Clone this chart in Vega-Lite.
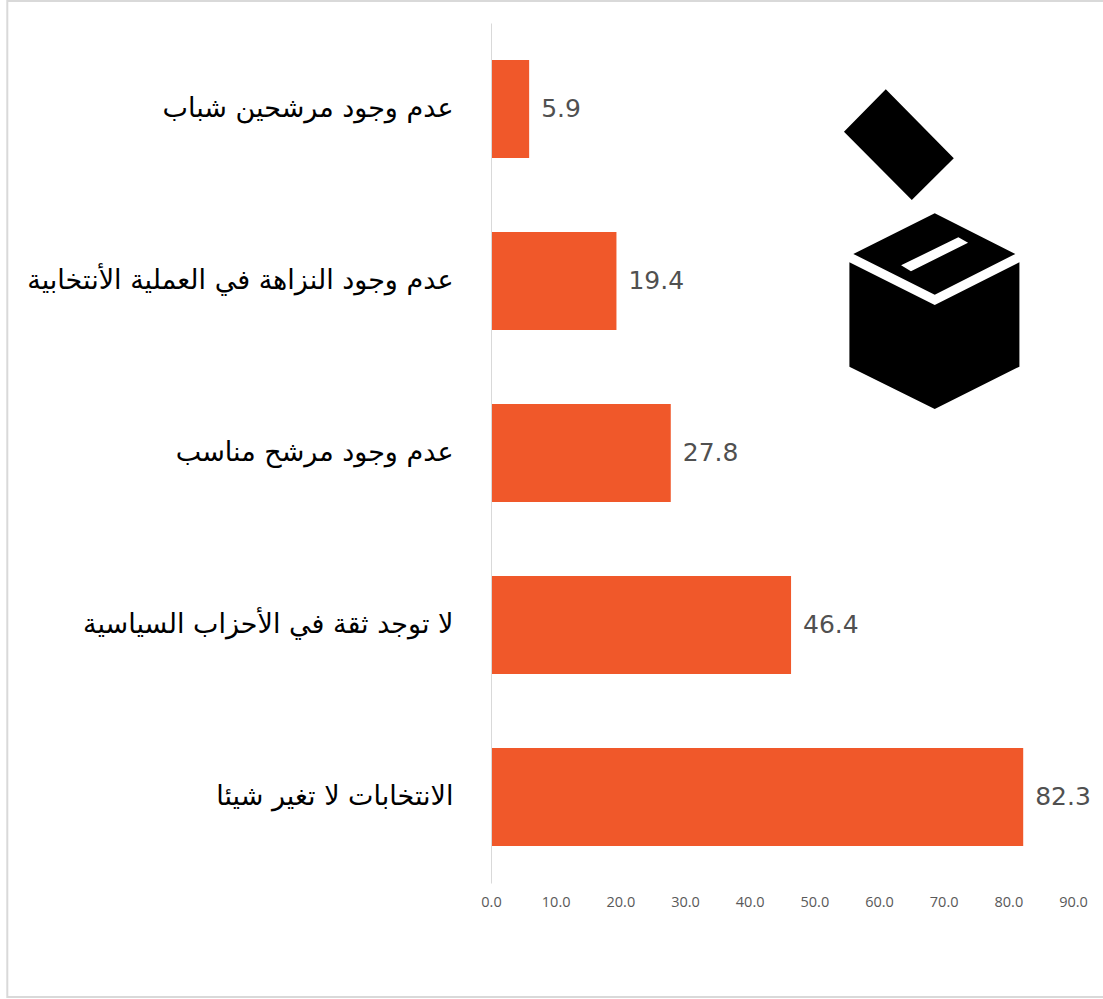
{
"$schema":"https://vega.github.io/schema/vega-lite/v6.json",
"width":582,"height":860,
"autosize":{"type":"none"},
"padding":{"left":491,"top":23,"right":30,"bottom":116},
"background":"white",
"config":{"view":{"stroke":null},"font":"DejaVu Sans"},
"datasets":{
"bars":[
{"reason":"عدم وجود مرشحين شباب","value":5.9},
{"reason":"عدم وجود النزاهة في العملية الأنتخابية","value":19.4},
{"reason":"عدم وجود مرشح مناسب","value":27.8},
{"reason":"لا توجد ثقة في الأحزاب السياسية","value":46.4},
{"reason":"الانتخابات لا تغير شيئا","value":82.3}
],
"frame":[{"x0":-74.8,"x1":96,"y0":-22,"y1":974}],
"icon":[{"ix":68.2,"iy":226}]
},
"layer":[
{"data":{"name":"bars"},
"mark":{"type":"bar","color":"#f0582a"},
"encoding":{
"x":{"field":"value","type":"quantitative","scale":{"domain":[0,90],"nice":false},
"axis":{"title":null,"values":[0,10,20,30,40,50,60,70,80,90],"format":".1f","grid":false,"ticks":false,"domain":false,"labelFontSize":14.5,"labelColor":"#595959","labelPadding":12,"labelFlush":false,"labelBound":false,"labelOverlap":false,"labelFont":"Open Sans"}},
"y":{"field":"reason","type":"nominal","sort":null,"scale":{"paddingInner":0.43,"paddingOuter":0.215},
"axis":{"title":null,"zindex":1,"ticks":false,"domain":true,"domainColor":"#d9d9d9","domainWidth":1,"grid":false,"labelFontSize":27,"labelColor":"#000000","labelPadding":38,"labelLimit":500,"labelFont":"DejaVu Sans"}}
}},
{"data":{"name":"bars"},
"mark":{"type":"text","align":"left","baseline":"middle","dx":12,"fontSize":25,"color":"#505050","font":"DejaVu Sans"},
"encoding":{
"x":{"field":"value","type":"quantitative"},
"y":{"field":"reason","type":"nominal","sort":null,"axis":null},
"text":{"field":"value","type":"quantitative","format":".1f"}
}},
{"data":{"name":"frame"},
"mark":{"type":"rect","fill":null,"stroke":"#d9d9d9","strokeWidth":2},
"encoding":{
"x":{"field":"x0","type":"quantitative"},"x2":{"field":"x1"},
"y":{"field":"y0","type":"quantitative","scale":{"domain":[0,860],"reverse":true,"nice":false,"zero":false},"axis":null},"y2":{"field":"y1"}
}},
{"data":{"name":"icon"},
"mark":{"type":"point","filled":true,"opacity":1,"color":"#000000","size":115600,
"shape":"M-0.272,-0.939L0.128,-0.534L-0.119,-0.288L-0.518,-0.690ZM0.016,-0.210L0.490,0.029L0.016,0.269L-0.463,0.029ZM0.155,-0.069L-0.182,0.096L-0.124,0.131L0.212,-0.037ZM-0.486,0.078L0.016,0.329L0.514,0.078L0.514,0.692L0.016,0.941L-0.486,0.692Z"},
"encoding":{
"x":{"field":"ix","type":"quantitative"},
"y":{"field":"iy","type":"quantitative","scale":{"domain":[0,860],"reverse":true,"nice":false,"zero":false},"axis":null}
}}
],
"resolve":{"scale":{"y":"independent"}}
}
